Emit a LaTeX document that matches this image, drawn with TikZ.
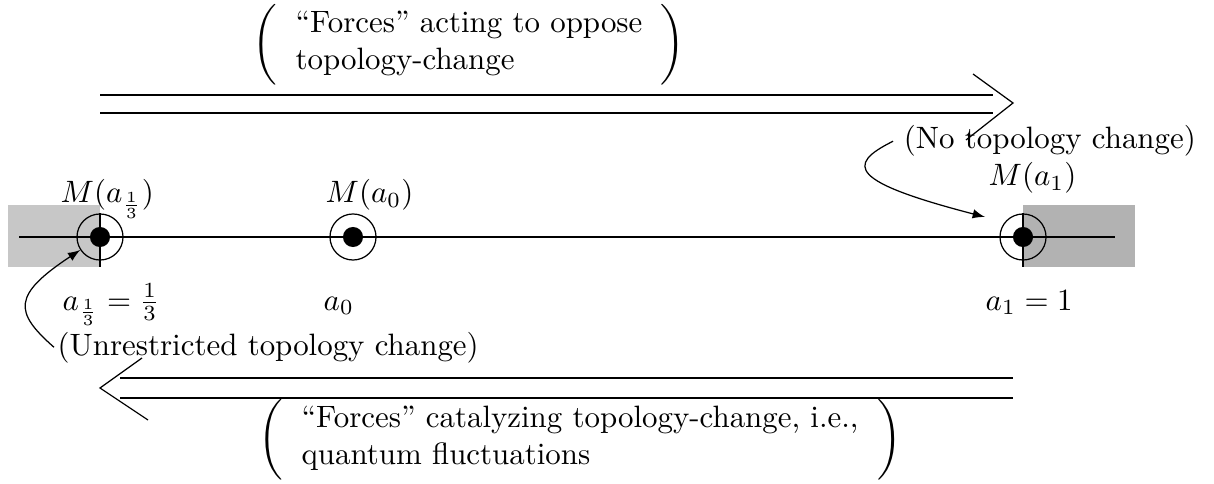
\documentclass[tikz,border=0pt]{standalone}
\usepackage{graphicx}
\usetikzlibrary{positioning}
\newcommand{\lpar}{\scalebox{1}[0.87]{$\Biggl($}}
\newcommand{\rpar}{\scalebox{1}[0.87]{$\Biggr)$}}
\begin{document}
\begin{tikzpicture}[x=0.3236pt,y=-0.3236pt,>=latex]
  \tikzset{
    ring/.style={circle,draw,minimum size=14.9pt,inner sep=0pt},
    dot/.style={circle,fill,minimum size=6.5pt,inner sep=0pt},
    lab/.style={anchor=base west,inner sep=1pt},
  }
  \useasboundingbox (0,0) rectangle (1214,483);
  % shaded ends
  \fill[black!22] (8,205) rectangle (100,267);
  \fill[black!30] (1023,205) rectangle (1135,267);
  \draw (100,213) -- (100,267);
  \draw (1023,213) -- (1023,267);
  % the line of a
  \coordinate (lend) at (19,237);
  \coordinate (rend) at (1115,237);
  \draw (lend) -- (rend);
  \node[ring] (third) at (100,237) {};
  \node[dot] at (third) {};
  \node[ring] (zero) at (353,237) {};
  \node[dot] at (zero) {};
  \node[ring] (one) at (1023,237) {};
  \node[dot] at (one) {};
  \node[lab] (Mthird) at (57,203) {$M(a_{\frac{1}{3}})$};
  \node[lab] (Mzero) at (322,203) {$M(a_0)$};
  \node[lab] (Mone) at (985,186) {$M(a_1)$};
  \node[lab] (athird) at (59,310) {$a_{\frac{1}{3}}=\frac{1}{3}$};
  \node[lab] (azero) at (320,310) {$a_0$};
  \node[lab] (aone) at (982,310) {$a_1=1$};
  % upper double arrow
  \coordinate (ua1) at (100,95);
  \coordinate (ub1) at (993,95);
  \coordinate (ua2) at (100,113);
  \coordinate (ub2) at (993,113);
  \coordinate (utip) at (1013,103);
  \draw (ua1) -- (ub1);
  \draw (ua2) -- (ub2);
  \draw (973,74) -- (utip) -- (966,140);
  \node[anchor=west,inner sep=0pt] (oppose) at (252,45)
    {\lpar\begin{tabular}{l}``Forces'' acting to oppose\\ topology-change\end{tabular}\rpar};
  % lower double arrow
  \coordinate (la1) at (120,378);
  \coordinate (lb1) at (1013,378);
  \coordinate (la2) at (120,398);
  \coordinate (lb2) at (1013,398);
  \coordinate (ltip) at (100,388);
  \draw (la1) -- (lb1);
  \draw (la2) -- (lb2);
  \draw (142,358) -- (ltip) -- (148,420);
  \node[anchor=west,inner sep=0pt] (catal) at (258,440)
    {\lpar\begin{tabular}{l}``Forces'' catalyzing topology-change, i.e.,\\ quantum fluctuations\end{tabular}\rpar};
  % comments on the ends
  \node[anchor=base west] (notop) at (893,149) {(No topology change)};
  \node[lab] (unres) at (54,355) {(Unrestricted topology change)};
  \coordinate (tipA) at (985,217);
  \draw[->] (notop.west) .. controls (845,165) and (850,182) .. (tipA);
  \draw[->] (unres.west) .. controls (14,312) and (12,295) .. (third);
\end{tikzpicture}
\end{document}
